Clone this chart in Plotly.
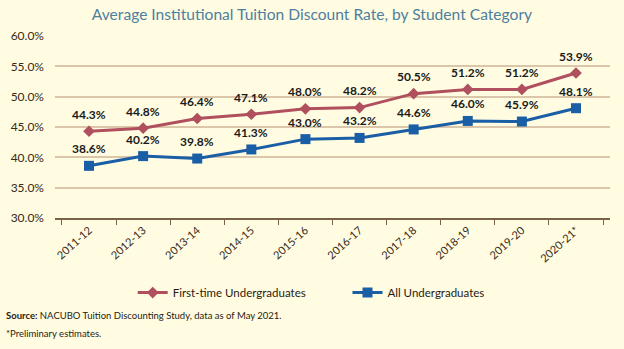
import plotly.graph_objects as go

years = ["2011-12", "2012-13", "2013-14", "2014-15", "2015-16",
         "2016-17", "2017-18", "2018-19", "2019-20", "2020-21*"]
first_time = [44.3, 44.8, 46.4, 47.1, 48.0, 48.2, 50.5, 51.2, 51.2, 53.9]
all_ug = [38.6, 40.2, 39.8, 41.3, 43.0, 43.2, 44.6, 46.0, 45.9, 48.1]

RED = "#B04F5E"
BLUE = "#1A5EA6"
BG = "#FFFCE1"
FONT = "Lato, Carlito, 'Open Sans', sans-serif"

fig = go.Figure()
fig.add_trace(go.Scatter(
    x=years, y=first_time, mode="lines+markers",
    name="First-time Undergraduates", legend="legend",
    line=dict(color=RED, width=3),
    marker=dict(symbol="diamond", size=9, color=RED),
))
fig.add_trace(go.Scatter(
    x=years, y=all_ug, mode="lines+markers",
    name="All Undergraduates", legend="legend2",
    line=dict(color=BLUE, width=3),
    marker=dict(symbol="square", size=10, color=BLUE),
))

# value labels above each point
for series in (first_time, all_ug):
    for yr, v in zip(years, series):
        fig.add_annotation(
            x=yr, y=v, text=f"{v:.1f}%", showarrow=False,
            yshift=17, font=dict(family=FONT, size=12, color="#1a1a1a", weight="bold"),
        )

fig.add_annotation(
    xref="paper", yref="paper", x=-0.091, y=-0.535, xanchor="left", yanchor="middle",
    text="<b>Source:</b> NACUBO Tuition Discounting Study, data as of May 2021.",
    showarrow=False, font=dict(family=FONT, size=9.5, color="#2a1a10"),
)
fig.add_annotation(
    xref="paper", yref="paper", x=-0.091, y=-0.633, xanchor="left", yanchor="middle",
    text="*Preliminary estimates.",
    showarrow=False, font=dict(family=FONT, size=9.5, color="#2a1a10"),
)

legend_style = dict(
    orientation="h", xanchor="left", y=-0.41, yanchor="middle",
    font=dict(family=FONT, size=11.5, color="#2a1a10"),
    itemwidth=30, bgcolor="rgba(0,0,0,0)",
)

fig.update_layout(
    width=624, height=349,
    margin=dict(l=55, r=14, t=36, b=131),
    paper_bgcolor=BG, plot_bgcolor=BG,
    font=dict(family=FONT, size=11, color="#3a2818"),
    title=dict(
        text="Average Institutional Tuition Discount Rate, by Student Category",
        x=0.5, xref="container", xanchor="center",
        y=0.958, yref="container", yanchor="middle",
        font=dict(family=FONT, size=15.6, color="#4E7FA0"),
    ),
    legend=dict(x=0.14, **legend_style),
    legend2=dict(x=0.527, **legend_style),
    showlegend=True,
)
fig.update_xaxes(
    type="category", showgrid=False, showline=True, linecolor="#7A6248", linewidth=1.5,
    ticks="outside", tickson="boundaries", ticklen=5, tickcolor="#7A6248",
    tickangle=-42, tickfont=dict(family=FONT, size=11, color="#3a2818"),
)
fig.update_yaxes(
    range=[30, 60], dtick=5, tickformat=".1f", ticksuffix="%",
    showgrid=True, gridcolor="#DCC6AA", gridwidth=1.5,
    showline=False, zeroline=False, ticks="", ticklabelstandoff=10,
    tickfont=dict(family=FONT, size=12, color="#3a2818"),
)

fig.write_html("out.html")
